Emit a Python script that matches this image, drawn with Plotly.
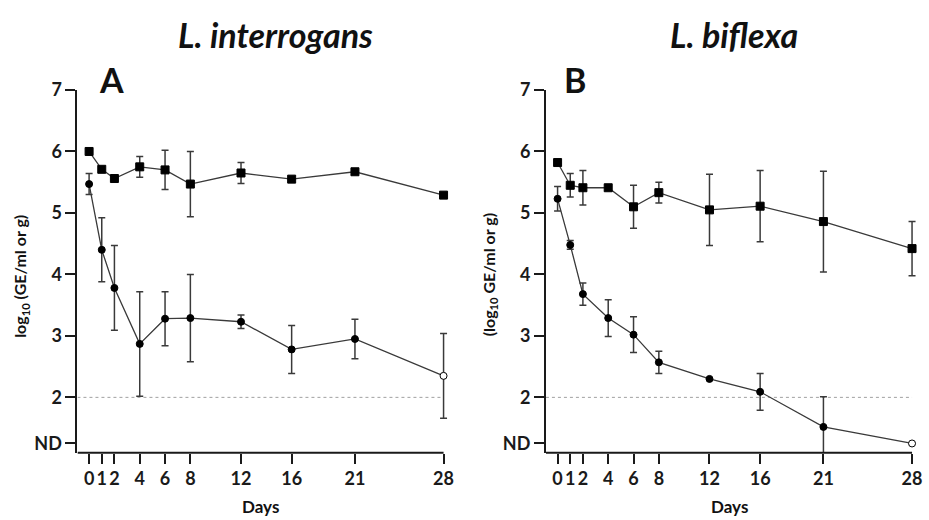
import plotly.graph_objects as go

days = [0, 1, 2, 4, 6, 8, 12, 16, 21, 28]
ND = 1.25

# Panel A: L. interrogans
a_sq = [6.00, 5.71, 5.56, 5.75, 5.70, 5.47, 5.65, 5.55, 5.67, 5.29]
a_sq_err = [0.0, 0.0, 0.0, 0.17, 0.32, 0.53, 0.17, 0.0, 0.0, 0.0]
a_ci = [5.47, 4.40, 3.78, 2.87, 3.28, 3.29, 3.23, 2.78, 2.95, 2.35]
a_ci_err = [0.17, 0.52, 0.69, 0.85, 0.44, 0.71, 0.11, 0.39, 0.32, 0.69]

# Panel B: L. biflexa
b_sq = [5.82, 5.45, 5.41, 5.41, 5.10, 5.33, 5.05, 5.11, 4.86, 4.42]
b_sq_err = [0.0, 0.19, 0.28, 0.04, 0.35, 0.17, 0.58, 0.58, 0.82, 0.44]
b_ci = [5.23, 4.48, 3.68, 3.29, 3.02, 2.57, 2.30, 2.09, 1.52, ND]
b_ci_err_plus = [0.20, 0.07, 0.18, 0.30, 0.29, 0.18, 0.0, 0.30, 0.49, 0.0]
b_ci_err_minus = [0.20, 0.07, 0.18, 0.30, 0.29, 0.18, 0.0, 0.30, 0.42, 0.0]

y_tickvals = [ND, 2, 3, 4, 5, 6, 7]
y_ticktext = ["ND", "2", "3", "4", "5", "6", "7"]
x_ticktext = [str(d) for d in days]

FONT = "Lato"
LINE_C = "#3a3a3a"
ERR_C = "#3a3a3a"
AX_C = "#1a1a1a"

fig = go.Figure()

def circ_colors(n):
    return ["black"] * (n - 1) + ["white"]

def add_series(y, ep, em, symbol, size, xa, ya, open_last=False):
    fill = circ_colors(len(y)) if open_last else "black"
    fig.add_trace(go.Scatter(
        x=days, y=y, mode="lines+markers", xaxis=xa, yaxis=ya,
        line=dict(color=LINE_C, width=1.3),
        marker=dict(symbol=symbol, size=size, color=fill,
                    line=dict(color="black", width=1)),
        error_y=dict(type="data", array=ep, arrayminus=em, symmetric=False,
                     color=ERR_C, thickness=1.5, width=3.5),
        cliponaxis=False, showlegend=False, hoverinfo="x+y"))

add_series(a_sq, a_sq_err, a_sq_err, "square", 8, "x", "y")
add_series(a_ci, a_ci_err, a_ci_err, "circle", 7, "x", "y", open_last=True)
add_series(b_sq, b_sq_err, b_sq_err, "square", 8, "x2", "y2")
add_series(b_ci, b_ci_err_plus, b_ci_err_minus, "circle", 7, "x2", "y2", open_last=True)

x_start, x_end, x_pad = -0.92, 28, 0.6
xr = [x_start, x_end + x_pad]
yr = [1.1, 7]
px_per_day = (445 - 77.7) / (x_end - x_start)
pad_px = px_per_day * x_pad
y_bot = 1 - 452 / 520
y_top = 1 - 80 / 520

tickfont = dict(family=FONT, size=18, color=AX_C, weight="bold")
axis_common = dict(ticks="outside", ticklen=10, tickwidth=2, tickcolor=AX_C,
                   showgrid=False, zeroline=False, tickfont=tickfont)

fig.update_layout(
    width=929, height=520, margin=dict(l=0, r=0, t=0, b=0),
    paper_bgcolor="white", plot_bgcolor="white",
    xaxis=dict(domain=[77.7/929, (445 + pad_px)/929], range=xr, tickvals=days,
               ticktext=x_ticktext, anchor="y", showline=False, **axis_common),
    yaxis=dict(domain=[y_bot, y_top], range=yr, tickvals=y_tickvals, ticktext=y_ticktext,
               anchor="x", showline=True, linecolor=AX_C, linewidth=2, **axis_common),
    xaxis2=dict(domain=[547.7/929, (915 + pad_px)/929], range=xr, tickvals=days,
                ticktext=x_ticktext, anchor="y2", showline=False, **axis_common),
    yaxis2=dict(domain=[y_bot, y_top], range=yr, tickvals=y_tickvals, ticktext=y_ticktext,
                anchor="x2", showline=True, linecolor=AX_C, linewidth=2, **axis_common),
)

for xa, ya in (("x", "y"), ("x2", "y2")):
    # dotted detection-limit line
    fig.add_shape(type="line", xref=xa, yref=ya, x0=x_start, x1=x_end, y0=2, y1=2,
                  line=dict(color="#a0a0a0", width=1, dash="dot"), layer="below")
    # x-axis line ending at day 28
    fig.add_shape(type="line", xref=xa, yref="paper", x0=x_start, x1=x_end, y0=y_bot, y1=y_bot,
                  line=dict(color=AX_C, width=2), layer="above")

def ann(text, x, y, size, angle=0, italic=False):
    t = f"<b><i>{text}</i></b>" if italic else f"<b>{text}</b>"
    fig.add_annotation(text=t, x=x/929, y=1-y/520, xref="paper", yref="paper",
                       showarrow=False, textangle=angle, xanchor="center", yanchor="middle",
                       font=dict(family=FONT, size=size, color="#111111"))

ann("L. interrogans", 276.7, 23, 34, italic=True)
ann("L. biflexa", 736.5, 23, 34, italic=True)
ann("A", 112, 69, 34)
ann("B", 577, 69, 34)
ann("log<sub>10</sub> (GE/ml or g)", 20.7, 271, 16, angle=-90)
ann("(log<sub>10</sub> GE/ml or g)", 490.7, 270, 16, angle=-90)
ann("Days", 261.5, 507, 17)
ann("Days", 731.5, 507, 17)

fig.write_html("out.html")
